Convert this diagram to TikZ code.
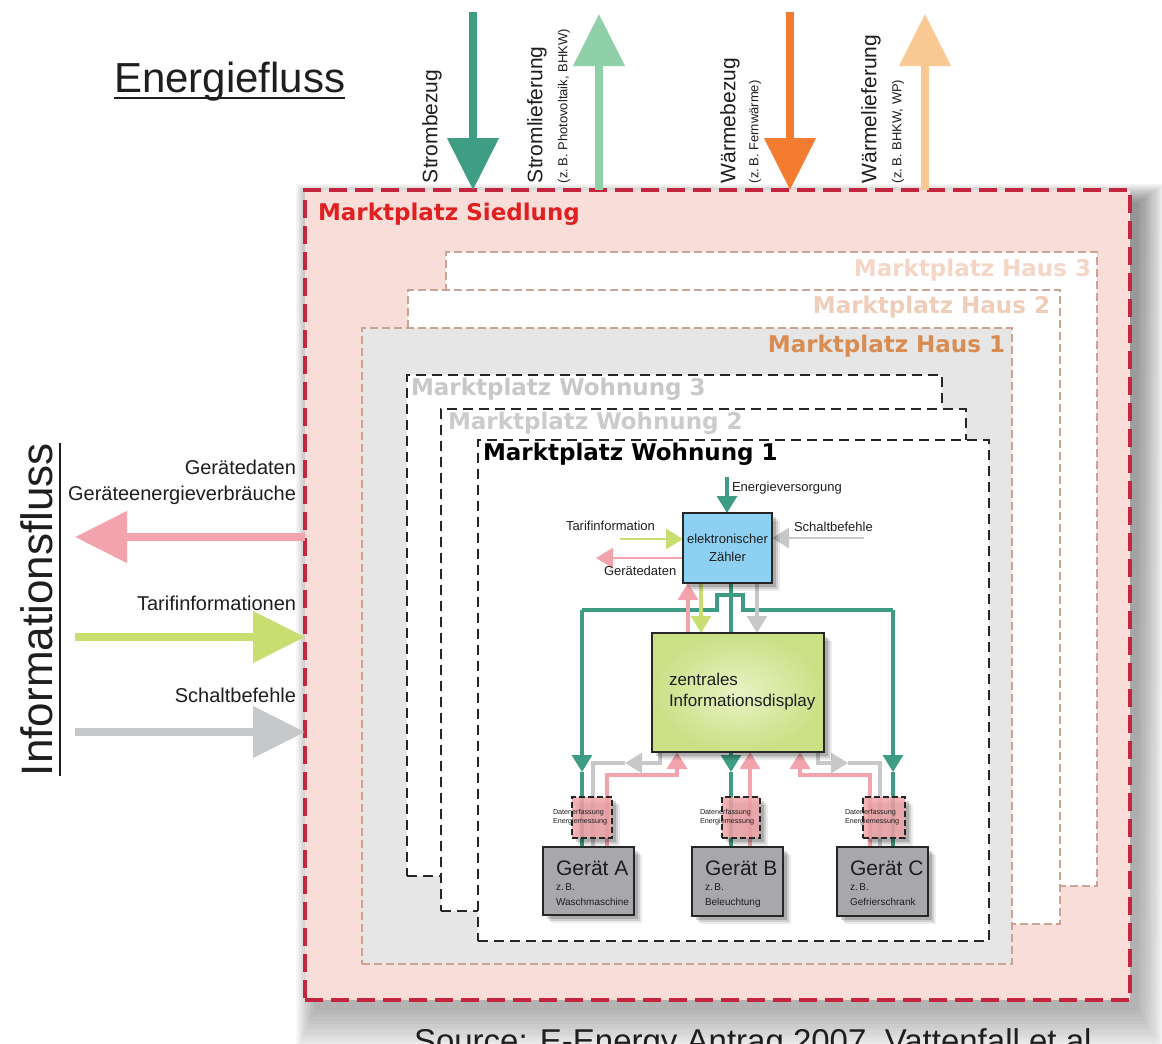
\documentclass[tikz,border=0pt]{standalone}
\usepackage{fontspec}
\setmainfont{Liberation Sans}
\newfontfamily\heavyfont{DejaVu Sans}
\usetikzlibrary{arrows.meta,fit}
\pgfdeclarelayer{frames}
\pgfdeclarelayer{wires}
\pgfsetlayers{frames,wires,main}
\newcommand\setfs[2]{\fontsize{#1}{#2}\selectfont}

\definecolor{sred}{HTML}{C4253F}
\definecolor{slabel}{HTML}{E02020}
\definecolor{spink}{HTML}{F9DDD9}
\definecolor{hline}{HTML}{C9A493}
\definecolor{hausgray}{HTML}{E6E6E6}
\definecolor{h3text}{HTML}{F5D6C6}
\definecolor{h2text}{HTML}{EFCDB9}
\definecolor{h1text}{HTML}{D88C52}
\definecolor{w3text}{HTML}{C8C8C8}
\definecolor{w2text}{HTML}{CBCBCB}
\definecolor{txt}{HTML}{1E1E1E}
\definecolor{cStrom}{HTML}{3E9D83}
\definecolor{cStromL}{HTML}{8FD0A8}
\definecolor{cWarm}{HTML}{F47C30}
\definecolor{cWarmL}{HTML}{F8C992}
\definecolor{cPink}{HTML}{F3A3AB}
\definecolor{cYG}{HTML}{C8DE70}
\definecolor{cGray}{HTML}{C7C8CA}
\definecolor{cTeal}{HTML}{3F9C84}
\definecolor{meterBlue}{HTML}{8ED0F2}
\definecolor{dispOuter}{HTML}{C9E085}
\definecolor{dispInner}{HTML}{E8F3C4}
\definecolor{devGray}{HTML}{A8A8AC}
\definecolor{sensPink}{HTML}{F2A5A9}
\definecolor{shade}{HTML}{5A6066}

\begin{document}
\begin{tikzpicture}[x=0.5pt,y=-0.5pt,
  every node/.style={inner sep=0pt,outer sep=0pt,text=txt},
  mlabel/.style={font=\heavyfont\bfseries\setfs{11.5}{13}},
  hausbox/.style={draw=hline,line width=0.6pt,dash pattern=on 4pt off 2pt},
  wohnbox/.style={draw=black!85,line width=0.8pt,dash pattern=on 5pt off 3pt,fill=white},
  bigarrow/.style={line width=3.8pt,-{Triangle[width=25pt,length=26pt]}},
  toplabel/.style={rotate=90,anchor=west,font=\setfs{10.5}{12}},
  subtoplabel/.style={rotate=90,anchor=west,font=\setfs{6.5}{8}},
  sidelabel/.style={anchor=east,align=right,font=\setfs{10}{13}},
  wire/.style={line width=1.6pt},
  sarrow/.style={line width=1.6pt,-{Triangle[width=10pt,length=8.5pt]}},
  smalltext/.style={font=\setfs{6.5}{8}},
  softshadow/.style={
    preaction={fill=black,fill opacity=0.08,draw=none,transform canvas={xshift=4pt,yshift=-4pt}},
    preaction={fill=black,fill opacity=0.12,draw=none,transform canvas={xshift=3pt,yshift=-3pt}},
    preaction={fill=black,fill opacity=0.16,draw=none,transform canvas={xshift=2pt,yshift=-2pt}}},
  devbox/.style={draw=black!85,line width=1pt,fill=devGray,softshadow},
  sensbox/.style={draw=black!85,line width=0.8pt,dash pattern=on 3pt off 1.5pt,fill=sensPink,fill opacity=0.85,softshadow},
  tinytext/.style={anchor=west,align=left,font=\setfs{3.6}{4.4}},
  devtitle/.style={anchor=base west,font=\setfs{10.5}{12}},
  devnote/.style={anchor=base west,font=\setfs{5}{6}}
]
\useasboundingbox (0,0) rectangle (1162,1044);

\begin{pgfonlayer}{frames}
\fill[white] (0,0) rectangle (1162,1044);

% soft shadow under the settlement frame
\foreach \i in {0,...,12} {
  \fill[shade,opacity=0.026] (314-\i*1.5,202-\i*1.5) rectangle (1138+\i*2.2,1010+\i*3.5);
}

% settlement market place
\node[fit={(305,190)(1130,1000)},draw=sred,line width=2pt,dash pattern=on 9pt off 4pt,fill=spink] (siedlung) {};
\node[mlabel,text=slabel,anchor=west] (siedlungLbl) at (318,214) {Marktplatz Siedlung};

% houses
\node[hausbox,fill=white,fit={(446,252)(1097,886)}] (haus3) {};
\node[mlabel,text=h3text,anchor=east] (haus3Lbl) at (1091,270) {Marktplatz Haus 3};
\node[hausbox,fill=white,fit={(408,290)(1060,924)}] (haus2) {};
\node[mlabel,text=h2text,anchor=east] (haus2Lbl) at (1050,307) {Marktplatz Haus 2};
\node[hausbox,fill=hausgray,fit={(362,328)(1012,964)}] (haus1) {};
\node[mlabel,text=h1text,anchor=east] (haus1Lbl) at (1005,346) {Marktplatz Haus 1};

% flats
\node[wohnbox,fit={(407,375)(942,876)}] (w3) {};
\node[mlabel,text=w3text,anchor=west] (w3Lbl) at (411,389) {Marktplatz Wohnung 3};
\node[wohnbox,fit={(441,409)(966,911)}] (w2) {};
\node[mlabel,text=w2text,anchor=west] (w2Lbl) at (448,423) {Marktplatz Wohnung 2};
\node[wohnbox,fit={(478,440)(989,941)}] (w1) {};
\node[mlabel,text=black,anchor=west] (w1Lbl) at (483,454) {Marktplatz Wohnung 1};
\end{pgfonlayer}

% ---------- energy flow (top) ----------
\node[anchor=base west,font=\setfs{21}{24}] (ef) at (114,92) {Energiefluss};
\draw[line width=1.1pt,txt] ([yshift=-3pt]ef.base west) -- ([yshift=-3pt]ef.base east);

\coordinate (sbTop) at (473,12);
\coordinate (slTop) at (599,14);
\coordinate (wbTop) at (790,12);
\coordinate (wlTop) at (925,14);
\draw[bigarrow,cStrom] (sbTop) -- (sbTop |- siedlung.north);
\draw[bigarrow,cStromL] (slTop |- siedlung.north) -- (slTop);
\draw[bigarrow,cWarm] (wbTop) -- (wbTop |- siedlung.north);
\draw[bigarrow,cWarmL] (wlTop |- siedlung.north) -- (wlTop);

\node[toplabel] (sbLbl) at (432,183) {Strombezug};
\node[toplabel] (slLbl) at (537,183) {Stromlieferung};
\node[subtoplabel] (slSub) at (564,183) {(z.\,B. Photovoltaik, BHKW)};
\node[toplabel] (wbLbl) at (730,183) {Wärmebezug};
\node[subtoplabel] (wbSub) at (755,183) {(z.\,B. Fernwärme)};
\node[toplabel] (wlLbl) at (871,183) {Wärmelieferung};
\node[subtoplabel] (wlSub) at (898,183) {(z.\,B. BHKW, WP)};

% ---------- information flow (left) ----------
\node[rotate=90,anchor=base west,font=\setfs{22}{24}] (inf) at (52,776) {Informationsfluss};
\draw[line width=1.1pt,txt] ([xshift=4pt]inf.base west) -- ([xshift=4pt]inf.base east);

\coordinate (gdTip) at (75,537);
\coordinate (tfTail) at (75,637);
\coordinate (scTail) at (75,732);
\draw[bigarrow,cPink] (gdTip -| siedlung.west) -- (gdTip);
\draw[bigarrow,cYG] (tfTail) -- (tfTail -| siedlung.west);
\draw[bigarrow,cGray] (scTail) -- (scTail -| siedlung.west);

\node[sidelabel] (gdLbl) at (296,482) {Gerätedaten\\Geräteenergieverbräuche};
\node[sidelabel] (tfLbl) at (296,603) {Tarifinformationen};
\node[sidelabel] (scLbl) at (296,695) {Schaltbefehle};

% ---------- devices inside the flat ----------
\node[fit={(683,513)(772,583)},draw=black!85,line width=1pt,fill=meterBlue,softshadow] (zaehler) {};
\node[align=center,font=\setfs{6.5}{9}] (zaehlerText) at (zaehler.center) {elektronischer\\Zähler};
\node[fit={(652,633)(824,752)},draw=black!85,line width=1pt,inner color=dispInner,outer color=dispOuter,softshadow] (display) {};
\node[anchor=north west,align=left,font=\setfs{8.5}{10.5}] (dispText) at (669,673) {zentrales\\Informationsdisplay};

\node[sensbox,fit={(572,797)(612,838)}] (sensA) {};
\node[sensbox,fit={(722,797)(760,838)}] (sensB) {};
\node[sensbox,fit={(863,797)(905,838)}] (sensC) {};
\node[tinytext] (sensAtxt) at (553,817) {Datenerfassung\\Energiemessung};
\node[tinytext] (sensBtxt) at (700,817) {Datenerfassung\\Energiemessung};
\node[tinytext] (sensCtxt) at (845,817) {Datenerfassung\\Energiemessung};

\node[devbox,fit={(543,847)(634,915)}] (geraetA) {};
\node[devbox,fit={(692,847)(783,916)}] (geraetB) {};
\node[devbox,fit={(837,847)(928,916)}] (geraetC) {};
\node[devtitle] (gAt) at (556,875) {Gerät A};
\node[devnote] (gAz) at (556,890) {z.\,B.};
\node[devnote] (gAn) at (556,905) {Waschmaschine};
\node[devtitle] (gBt) at (705,875) {Gerät B};
\node[devnote] (gBz) at (705,890) {z.\,B.};
\node[devnote] (gBn) at (705,905) {Beleuchtung};
\node[devtitle] (gCt) at (850,875) {Gerät C};
\node[devnote] (gCz) at (850,890) {z.\,B.};
\node[devnote] (gCn) at (850,905) {Gefrierschrank};

% labels around the meter
\node[smalltext,anchor=west] (evLbl) at (732,488) {Energieversorgung};
\node[smalltext,anchor=west] (tiLbl) at (566,526) {Tarifinformation};
\node[smalltext,anchor=west] (gdsLbl) at (604,571) {Gerätedaten};
\node[smalltext,anchor=west] (sbsLbl) at (794,527) {Schaltbefehle};

% ---------- wiring ----------
\coordinate (xZp) at (688,0);
\coordinate (xZg) at (701,0);
\coordinate (xZt) at (731,0);
\coordinate (xZs) at (757,0);
\coordinate (xAt) at (582,0);
\coordinate (xAs) at (593,0);
\coordinate (xAp) at (607,0);
\coordinate (xAq) at (677,0);
\coordinate (xAg) at (660,0);
\coordinate (xBt) at (731,0);
\coordinate (xBp) at (750,0);
\coordinate (xCq) at (800,0);
\coordinate (xCg) at (818,0);
\coordinate (xCp) at (870,0);
\coordinate (xCs) at (880,0);
\coordinate (xCt) at (893,0);
\coordinate (yHead) at (0,772);
\coordinate (yGr) at (0,763);
\coordinate (yPk) at (0,775);
\coordinate (evTop) at (727,477);
\coordinate (tiStart) at (620,539);
\coordinate (gdsTip) at (596,558);
\coordinate (sbsStart) at (864,538);
\coordinate (busL) at (582,610);
\coordinate (busR) at (893,610);
\coordinate (grATip) at (625,763);
\coordinate (grCTip) at (848,763);

\begin{pgfonlayer}{wires}
% meter inputs and outputs
\draw[sarrow,cTeal] (evTop) -- (zaehler.north -| evTop);
\draw[sarrow,cYG,line width=1.3pt] (tiStart) -- (tiStart -| zaehler.west);
\draw[sarrow,cPink,line width=1.3pt] (gdsTip -| zaehler.west) -- (gdsTip);
\draw[sarrow,cGray,line width=1.1pt] (sbsStart) -- (sbsStart -| zaehler.east);

% distribution bus
\draw[wire,cTeal] (busL) -- (717,610) -- (717,595) -- (743,595) -- (743,610) -- (busR);
\draw[sarrow,cTeal] (busL) -- (busL |- yHead);
\draw[wire,cTeal] (busL |- yHead) -- (geraetA.north -| xAt);
\draw[sarrow,cTeal] (busR) -- (busR |- yHead);
\draw[wire,cTeal] (busR |- yHead) -- (geraetC.north -| xCt);

% meter to display
\draw[wire,cTeal] (zaehler.south -| xZt) -- (display.north -| xZt);
\draw[sarrow,cPink] (display.north -| xZp) -- (zaehler.south -| xZp);
\draw[sarrow,cYG] (zaehler.south -| xZg) -- (display.north -| xZg);
\draw[sarrow,cGray] (zaehler.south -| xZs) -- (display.north -| xZs);

% display to devices
\draw[sarrow,cTeal] (display.south -| xBt) -- (xBt |- yHead);
\draw[wire,cTeal] (xBt |- yHead) -- (geraetB.north -| xBt);
\draw[sarrow,cGray] (display.south -| xAg) -- (xAg |- yGr) -- (grATip);
\draw[wire,cGray] (grATip) -- (xAs |- yGr) -- (geraetA.north -| xAs);
\draw[sarrow,cGray] (display.south -| xCg) -- (xCg |- yGr) -- (grCTip);
\draw[wire,cGray] (grCTip) -- (xCs |- yGr) -- (geraetC.north -| xCs);
\draw[sarrow,cPink] (geraetA.north -| xAp) -- (xAp |- yPk) -- (xAq |- yPk) -- (display.south -| xAq);
\draw[sarrow,cPink] (geraetB.north -| xBp) -- (display.south -| xBp);
\draw[sarrow,cPink] (geraetC.north -| xCp) -- (xCp |- yPk) -- (xCq |- yPk) -- (display.south -| xCq);
\end{pgfonlayer}

% source line
\node[anchor=base west,font=\setfs{16.5}{18}] (src) at (414,1052) {Source: E-Energy Antrag 2007, Vattenfall et al.};
\end{tikzpicture}
\end{document}
